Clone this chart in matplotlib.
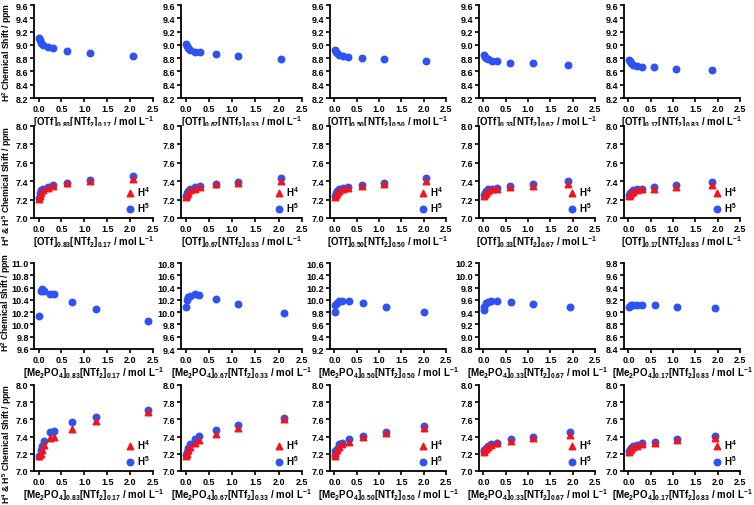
import matplotlib
matplotlib.use("Agg")
import matplotlib.pyplot as plt

plt.rcParams['font.family'] = ['Liberation Sans', 'DejaVu Sans']
plt.rcParams['font.weight'] = 'bold'
plt.rcParams['mathtext.fontset'] = 'custom'
plt.rcParams['mathtext.rm'] = 'Liberation Sans:bold'
plt.rcParams['mathtext.default'] = 'rm'

# ---------------- data ----------------
otf_fracs = ["0.83", "0.67", "0.50", "0.33", "0.17"]
ntf_fracs = ["0.17", "0.33", "0.50", "0.67", "0.83"]

# OTf series: concentrations
otf_x = [
    [0.01, 0.03, 0.06, 0.10, 0.20, 0.31, 0.62, 1.13, 2.07],
    [0.01, 0.03, 0.06, 0.10, 0.20, 0.31, 0.65, 1.12, 2.05],
    [0.01, 0.03, 0.06, 0.10, 0.20, 0.31, 0.62, 1.12, 2.05],
    [0.01, 0.03, 0.06, 0.10, 0.20, 0.30, 0.60, 1.10, 1.90],
    [0.01, 0.03, 0.06, 0.10, 0.20, 0.30, 0.57, 1.07, 1.87],
]
otf_h2 = [
    [9.10, 9.08, 9.03, 9.00, 8.97, 8.95, 8.91, 8.88, 8.83],
    [9.01, 8.99, 8.96, 8.93, 8.90, 8.89, 8.86, 8.83, 8.79],
    [8.93, 8.90, 8.87, 8.85, 8.83, 8.82, 8.80, 8.78, 8.75],
    [8.85, 8.82, 8.80, 8.78, 8.76, 8.75, 8.73, 8.72, 8.70],
    [8.77, 8.75, 8.72, 8.70, 8.68, 8.67, 8.66, 8.64, 8.62],
]
otf_h4 = [
    [7.21, 7.24, 7.27, 7.30, 7.33, 7.35, 7.38, 7.40, 7.42],
    [7.23, 7.25, 7.27, 7.30, 7.32, 7.34, 7.37, 7.38, 7.40],
    [7.23, 7.25, 7.27, 7.29, 7.31, 7.33, 7.35, 7.37, 7.40],
    [7.24, 7.26, 7.27, 7.29, 7.31, 7.32, 7.34, 7.35, 7.37],
    [7.24, 7.25, 7.27, 7.28, 7.30, 7.31, 7.32, 7.34, 7.36],
]
otf_h5 = [
    [7.22, 7.27, 7.30, 7.31, 7.34, 7.36, 7.38, 7.41, 7.46],
    [7.24, 7.27, 7.29, 7.31, 7.34, 7.35, 7.37, 7.39, 7.44],
    [7.24, 7.27, 7.29, 7.31, 7.33, 7.34, 7.36, 7.38, 7.43],
    [7.25, 7.27, 7.29, 7.31, 7.32, 7.33, 7.35, 7.37, 7.40],
    [7.25, 7.27, 7.28, 7.30, 7.31, 7.32, 7.34, 7.36, 7.39],
]

# Me2PO4 series
mep_x = [
    [0.02, 0.05, 0.08, 0.12, 0.25, 0.34, 0.72, 1.25, 2.38],
    [0.01, 0.02, 0.05, 0.10, 0.20, 0.29, 0.65, 1.13, 2.12],
    [0.01, 0.02, 0.05, 0.10, 0.18, 0.32, 0.64, 1.16, 2.00],
    [0.01, 0.02, 0.05, 0.10, 0.18, 0.30, 0.62, 1.10, 1.93],
    [0.01, 0.03, 0.06, 0.10, 0.20, 0.30, 0.60, 1.08, 1.93],
]
mep_h2 = [
    [10.14, 10.55, 10.57, 10.55, 10.49, 10.49, 10.37, 10.25, 10.05],
    [10.08, 10.19, 10.24, 10.27, 10.30, 10.28, 10.22, 10.14, 9.98],
    [9.80, 9.92, 9.95, 9.98, 9.98, 9.98, 9.95, 9.89, 9.80],
    [9.44, 9.49, 9.55, 9.57, 9.58, 9.58, 9.57, 9.54, 9.49],
    [9.08, 9.10, 9.11, 9.12, 9.12, 9.12, 9.11, 9.09, 9.07],
]
mep_h4 = [
    [7.17, 7.20, 7.24, 7.30, 7.38, 7.40, 7.49, 7.58, 7.69],
    [7.18, 7.20, 7.24, 7.28, 7.33, 7.36, 7.43, 7.50, 7.60],
    [7.18, 7.21, 7.24, 7.28, 7.31, 7.34, 7.39, 7.44, 7.50],
    [7.22, 7.24, 7.26, 7.28, 7.30, 7.32, 7.35, 7.38, 7.42],
    [7.22, 7.24, 7.26, 7.28, 7.29, 7.31, 7.33, 7.36, 7.38],
]
mep_h5 = [
    [7.18, 7.25, 7.29, 7.35, 7.45, 7.47, 7.57, 7.63, 7.71],
    [7.19, 7.22, 7.27, 7.31, 7.37, 7.41, 7.48, 7.53, 7.62],
    [7.19, 7.23, 7.26, 7.31, 7.33, 7.37, 7.41, 7.45, 7.52],
    [7.23, 7.25, 7.27, 7.29, 7.31, 7.33, 7.37, 7.40, 7.45],
    [7.23, 7.25, 7.27, 7.29, 7.30, 7.32, 7.34, 7.37, 7.41],
]

row1_ylim = (8.2, 9.6)
row2_ylim = (7.0, 8.0)
row3_ylims = [(9.6, 11.0), (9.4, 10.8), (9.2, 10.6), (8.8, 10.2), (8.4, 9.8)]
row4_ylim = (7.0, 8.0)
xticks = [0.0, 0.5, 1.0, 1.5, 2.0, 2.5]

BLUE = '#2f52f2'
RED = '#f0141e'

W, H = 754, 506
fig = plt.figure(figsize=(W / 100, H / 100), dpi=100)

col_left = [34, 181, 330, 479, 624]
col_w = [119, 121, 116, 116, 116]
row_top = [6, 127, 264, 386]
row_h = [93, 92, 86, 86]
FS = 7.0
YFS = 6.2


def make_ax(r, c, ylim):
    ax = fig.add_axes([col_left[c] / W, (H - row_top[r] - row_h[r]) / H,
                       col_w[c] / W, row_h[r] / H])
    ax.set_xlim(-0.1, 2.5)
    ax.set_ylim(*ylim)
    ax.set_xticks(xticks)
    ax.set_xticklabels([f"{t:.1f}" for t in xticks])
    yt = [round(ylim[0] + 0.2 * i, 1) for i in range(int(round((ylim[1] - ylim[0]) / 0.2)) + 1)]
    ax.set_yticks(yt)
    ax.set_yticklabels([f"{t:.1f}" for t in yt])
    for s in ['top', 'right']:
        ax.spines[s].set_visible(False)
    for s in ['left', 'bottom']:
        ax.spines[s].set_linewidth(1.3)
    ax.tick_params(direction='out', length=3, width=1.2, labelsize=6.5, pad=1.2)
    for lab in ax.get_xticklabels() + ax.get_yticklabels():
        lab.set_fontweight('bold')
    return ax


def xlabel(anion, i):
    return anion + "$_{" + otf_fracs[i] + "}$[NTf$_2$]$_{" + ntf_fracs[i] + "}$ / mol L$^{-1}$"


def set_ylab(ax, text, ypos, xpos=-0.172):
    ax.set_ylabel(text, fontsize=YFS, fontweight='bold')
    ax.yaxis.set_label_coords(xpos, ypos)


def add_legend(ax):
    h, l = ax.get_legend_handles_labels()
    ax.legend(h[::-1], l[::-1], loc='lower right', bbox_to_anchor=(1.03, -0.03), frameon=False,
              handletextpad=0.1, labelspacing=0.25, handlelength=1.2, borderpad=0.2,
              prop={'weight': 'bold', 'size': FS})


ms = 22
LP = 0.3
for c in range(5):
    # row 1
    ax = make_ax(0, c, row1_ylim)
    ax.scatter(otf_x[c], otf_h2[c], s=ms, color=BLUE, zorder=3, clip_on=False)
    ax.set_xlabel(xlabel("[OTf]", c), fontsize=FS, fontweight='bold', labelpad=LP)
    if c == 0:
        set_ylab(ax, "H$^2$ Chemical Shift / ppm", 0.5)
    # row 2
    ax = make_ax(1, c, row2_ylim)
    ax.scatter(otf_x[c], otf_h5[c], s=ms, color=BLUE, zorder=3, clip_on=False, label="H$^5$")
    ax.scatter(otf_x[c], otf_h4[c], s=ms, color=RED, marker='^', zorder=4, clip_on=False, label="H$^4$")
    add_legend(ax)
    ax.set_xlabel(xlabel("[OTf]", c), fontsize=FS, fontweight='bold', labelpad=LP)
    if c == 0:
        set_ylab(ax, "H$^4$ & H$^5$ Chemical Shift / ppm", 0.36)
    # row 3
    ax = make_ax(2, c, row3_ylims[c])
    ax.scatter(mep_x[c], mep_h2[c], s=ms, color=BLUE, zorder=3, clip_on=False)
    ax.set_xlabel(xlabel("[Me$_2$PO$_4$]", c), fontsize=FS, fontweight='bold', labelpad=LP)
    if c == 0:
        ax.tick_params(axis='y', pad=0.6)
        set_ylab(ax, "H$^2$ Chemical Shift / ppm", 0.55, xpos=-0.18)
    # row 4
    ax = make_ax(3, c, row4_ylim)
    ax.scatter(mep_x[c], mep_h5[c], s=ms, color=BLUE, zorder=3, clip_on=False, label="H$^5$")
    ax.scatter(mep_x[c], mep_h4[c], s=ms, color=RED, marker='^', zorder=4, clip_on=False, label="H$^4$")
    add_legend(ax)
    ax.set_xlabel(xlabel("[Me$_2$PO$_4$]", c), fontsize=FS, fontweight='bold', labelpad=LP)
    if c == 0:
        set_ylab(ax, "H$^4$ & H$^5$ Chemical Shift / ppm", 0.33)

fig.savefig("out.png", dpi=100)
